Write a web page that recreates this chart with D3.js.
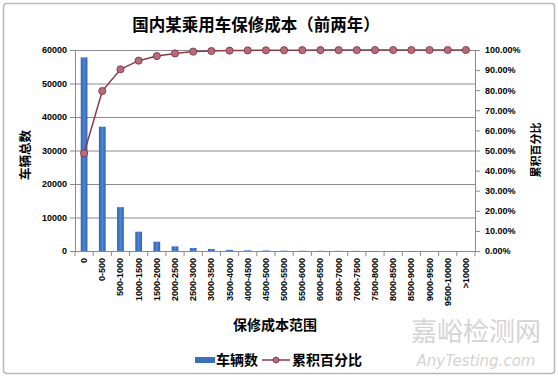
<!DOCTYPE html>
<html><head><meta charset="utf-8">
<script src="https://cdn.jsdelivr.net/npm/d3@7"></script>
<style>
body{margin:0;background:#fff;}
svg text{font-family:"Liberation Sans",Arial,sans-serif;}
.cn{font-family:"Noto Sans CJK SC","Noto Sans",sans-serif;font-weight:bold;}
</style></head><body>
<svg id="c" width="558" height="379"></svg>
<script>
const categories = ["0","0-500","500-1000","1000-1500","1500-2000","2000-2500","2500-3000","3000-3500","3500-4000","4000-4500","4500-5000","5000-5500","5500-6000","6000-6500","6500-7000","7000-7500","7500-8000","8000-8500","8500-9000","9000-9500","9500-10000",">10000"];
const vehicleCounts = [57800,37100,13100,5770,2780,1390,900,600,350,200,150,100,80,60,50,40,30,30,20,20,20,20];
const cumulativePct = [48.6,79.6,90.4,94.7,97.0,98.3,99.2,99.5,99.7,99.8,99.85,99.9,99.92,99.94,99.95,99.96,99.97,99.98,99.99,99.99,100,100];
const leftTicks = [0,10000,20000,30000,40000,50000,60000];
const rightTicks = [0,10,20,30,40,50,60,70,80,90,100];

const svg = d3.select("#c");
const L=75, R=475, T=50, B=251;

svg.append("rect").attr("x",3.5).attr("y",3.5).attr("width",551).attr("height",370)
  .attr("fill","#fff").attr("stroke","#b8b8b8").attr("stroke-width",1.5).attr("rx",3);

const x = d3.scaleBand().domain(categories).range([L,R]).paddingInner(0.63).paddingOuter(0.315);
const xb = d3.scaleBand().domain(categories).range([L,R]);
const y = d3.scaleLinear().domain([0,60000]).range([B,T]);
const y2 = d3.scaleLinear().domain([0,100]).range([B,T]);

// gridlines
svg.append("g").selectAll("line").data(leftTicks.slice(1)).join("line")
  .attr("x1",L).attr("x2",R).attr("y1",d=>y(d)+0.5).attr("y2",d=>y(d)+0.5)
  .attr("stroke","#8a8a8a").attr("stroke-width",1);

// left axis
const ga = svg.append("g").attr("transform",`translate(${L},0)`)
  .call(d3.axisLeft(y).tickValues(leftTicks).tickSize(5).tickPadding(3).tickFormat(d3.format("d")));
ga.select(".domain").attr("stroke","#8a8a8a");
ga.selectAll(".tick line").attr("stroke","#8a8a8a");
ga.selectAll("text").attr("font-size",9).attr("font-weight","bold").attr("fill","#000");

// right axis
const gr = svg.append("g").attr("transform",`translate(${R},0)`)
  .call(d3.axisRight(y2).tickValues(rightTicks).tickSize(5).tickPadding(5).tickFormat(d=>d.toFixed(2)+"%"));
gr.select(".domain").attr("stroke","#8a8a8a");
gr.selectAll(".tick line").attr("stroke","#8a8a8a");
gr.selectAll("text").attr("font-size",9).attr("font-weight","bold").attr("fill","#000");

// bars
const grad = svg.append("defs").append("linearGradient").attr("id","bg").attr("x1","0").attr("x2","1");
grad.append("stop").attr("offset","0").attr("stop-color","#2e62b0");
grad.append("stop").attr("offset","0.5").attr("stop-color","#4f86d4");
grad.append("stop").attr("offset","1").attr("stop-color","#2e62b0");
svg.append("g").selectAll("rect").data(vehicleCounts).join("rect")
  .attr("x",(d,i)=>x(categories[i])).attr("width",x.bandwidth())
  .attr("y",d=>y(d)).attr("height",d=>B-y(d)).attr("fill","url(#bg)");

// x axis
const gx = svg.append("g").attr("transform",`translate(0,${B})`);
gx.append("line").attr("x1",L).attr("x2",R).attr("y1",0.5).attr("y2",0.5).attr("stroke","#8a8a8a");
gx.selectAll("line.t").data(categories.concat(["end"])).join("line").attr("class","t")
  .attr("x1",(d,i)=>L+i*xb.bandwidth()).attr("x2",(d,i)=>L+i*xb.bandwidth())
  .attr("y1",0).attr("y2",5).attr("stroke","#8a8a8a");
gx.selectAll("text").data(categories).join("text")
  .attr("transform",d=>`translate(${xb(d)+xb.bandwidth()/2+3},7) rotate(-90)`)
  .attr("text-anchor","end").attr("font-size",9).attr("font-weight","bold").text(d=>d);

// line
const line = d3.line().x((d,i)=>xb(categories[i])+xb.bandwidth()/2).y(d=>y2(d));
svg.append("path").datum(cumulativePct).attr("d",line).attr("fill","none")
  .attr("stroke","#8c3a48").attr("stroke-width",1.5);
svg.append("g").selectAll("circle").data(cumulativePct).join("circle")
  .attr("cx",(d,i)=>xb(categories[i])+xb.bandwidth()/2).attr("cy",d=>y2(d)).attr("r",3.6)
  .attr("fill","#b86a7a").attr("stroke","#7a2e3c").attr("stroke-width",0.8);

// titles
svg.append("text").attr("class","cn").attr("x",256).attr("y",31).attr("text-anchor","middle")
  .attr("font-size",16.5).text("国内某乘用车保修成本（前两年）");
svg.append("text").attr("class","cn").attr("transform","translate(30,155) rotate(-90)")
  .attr("text-anchor","middle").attr("font-size",12.5).text("车辆总数");
svg.append("text").attr("class","cn").attr("transform","translate(540,150) rotate(-90)")
  .attr("text-anchor","middle").attr("font-size",11).text("累积百分比");
svg.append("text").attr("class","cn").attr("x",275).attr("y",330).attr("text-anchor","middle")
  .attr("font-size",14).text("保修成本范围");

// legend
svg.append("rect").attr("x",195).attr("y",357).attr("width",20).attr("height",6).attr("fill","#3a70c0");
svg.append("text").attr("class","cn").attr("x",216).attr("y",365).attr("font-size",14).text("车辆数");
svg.append("line").attr("x1",262).attr("x2",290).attr("y1",360).attr("y2",360).attr("stroke","#8c3a48").attr("stroke-width",1.5);
svg.append("circle").attr("cx",276).attr("cy",360).attr("r",3).attr("fill","#b86a7a").attr("stroke","#7a2e3c").attr("stroke-width",0.8);
svg.append("text").attr("class","cn").attr("x",292).attr("y",365).attr("font-size",14).text("累积百分比");

// watermark
svg.append("text").attr("x",476).attr("y",341).attr("text-anchor","middle").attr("font-size",26)
  .attr("fill","#d4d4d4").style("font-family","'Noto Sans CJK SC',sans-serif").text("嘉峪检测网");
svg.append("text").attr("x",476).attr("y",366).attr("text-anchor","middle").attr("font-size",15)
  .attr("font-style","italic").attr("fill","#d4d4d4").style("font-family","'DejaVu Sans',sans-serif").text("AnyTesting.com");
</script></body></html>
